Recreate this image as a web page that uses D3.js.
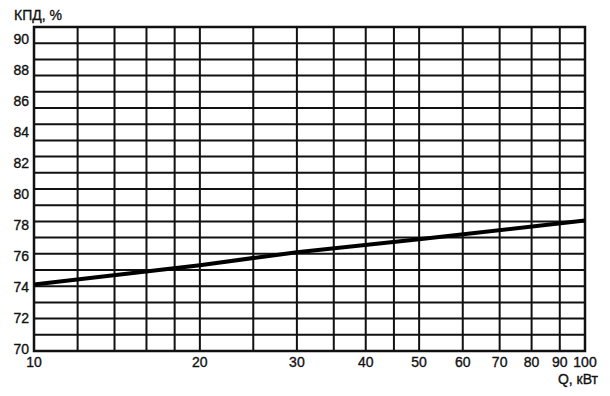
<!DOCTYPE html>
<html><head><meta charset="utf-8">
<script src="https://cdn.jsdelivr.net/npm/d3@7"></script>
<style>body{margin:0;background:#fff}svg{display:block}text{font-family:"Liberation Sans",Arial,sans-serif;fill:#111;stroke:#111;stroke-width:0.35px}</style>
</head><body><svg id="c" width="610" height="396"></svg>
<script>
// data
const xGrid = [10,12,14,16,18,20,25,30,35,40,45,50,60,70,80,90,100];
const xTickLabels = [10,20,30,40,50,60,70,80,90,100];
const yGrid = d3.range(70, 91, 1);
const yTickLabels = [70,72,74,76,78,80,82,84,86,88,90];
const powerKW = [10, 20, 30, 50, 100];
const efficiency = [74.1, 75.3, 76.1, 76.9, 78.05];
const yTitle = "КПД, %";
const xTitle = "Q, кВт";

const svg = d3.select("#c");
const L = 34, R = 585, T = 27, B = 351;
const x = d3.scaleLog().domain([10,100]).range([L,R]);
const y = d3.scaleLinear().domain([70,90]).range([B,T]);
const yLab = d3.scaleLinear().domain([70,90]).range([349,39]);

const g = svg.append("g");
g.selectAll("line.h").data(yGrid).join("line")
  .attr("x1",L).attr("x2",R).attr("y1",d=>y(d)).attr("y2",d=>y(d))
  .attr("stroke","#111").attr("stroke-width",2);
g.selectAll("line.v").data(xGrid).join("line")
  .attr("y1",T).attr("y2",B).attr("x1",d=>x(d)).attr("x2",d=>x(d))
  .attr("stroke","#111").attr("stroke-width",2);
g.append("rect").attr("x",L).attr("y",T).attr("width",R-L).attr("height",B-T)
  .attr("fill","none").attr("stroke","#111").attr("stroke-width",2.5);

const pts = powerKW.map((p,i)=>[p,efficiency[i]]);
g.append("path").datum(pts)
  .attr("d", d3.line().x(d=>x(d[0])).y(d=>y(d[1])))
  .attr("fill","none").attr("stroke","#000").attr("stroke-width",4).attr("stroke-linecap","butt");

svg.selectAll("text.yl").data(yTickLabels).join("text")
  .attr("x",29).attr("y",d=>yLab(d)).attr("dy","0.36em")
  .attr("text-anchor","end").attr("font-size",14).text(d=>d);
svg.selectAll("text.xl").data(xTickLabels).join("text")
  .attr("x",d=>x(d)).attr("y",367)
  .attr("text-anchor","middle").attr("font-size",14).text(d=>d);
svg.append("text").attr("x",14).attr("y",20).attr("font-size",14).text(yTitle);
svg.append("text").attr("x",598).attr("y",384).attr("text-anchor","end").attr("font-size",14).text(xTitle);
</script></body></html>
